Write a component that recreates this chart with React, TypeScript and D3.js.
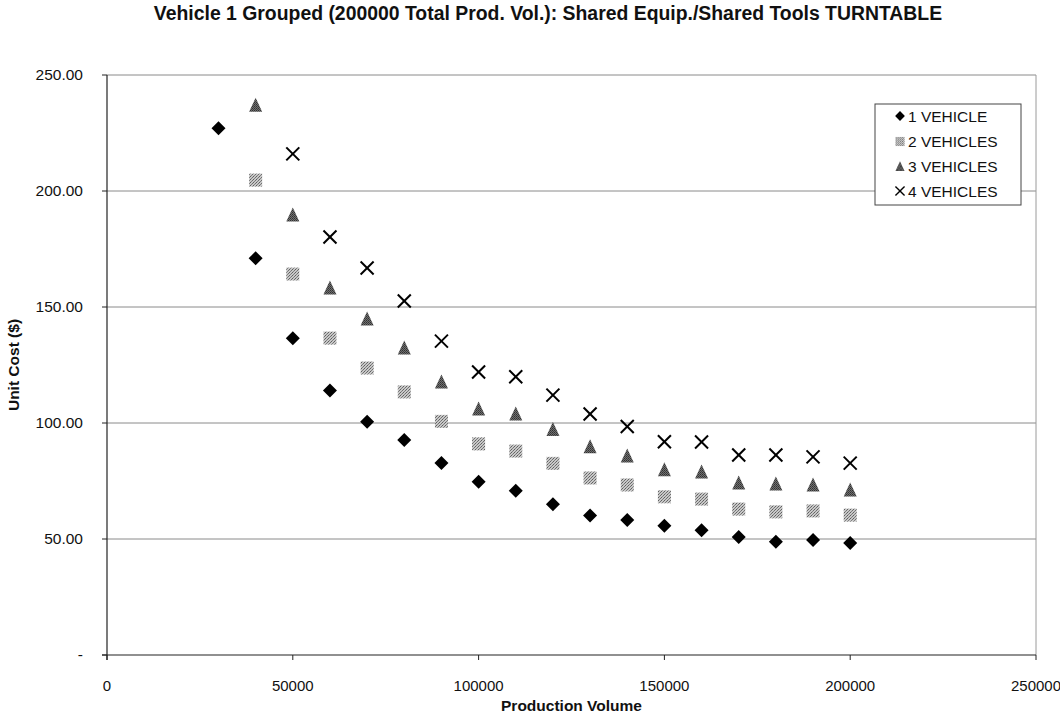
import React from "react";
import * as d3 from "d3";

const title = "Vehicle 1 Grouped (200000 Total Prod. Vol.): Shared Equip./Shared Tools TURNTABLE";
const xTitle = "Production Volume";
const yTitle = "Unit Cost ($)";

const xTicks = [0, 50000, 100000, 150000, 200000, 250000];
const yTicks = [0, 50, 100, 150, 200, 250];

const vol1 = [30000, 40000, 50000, 60000, 70000, 80000, 90000, 100000, 110000, 120000, 130000, 140000, 150000, 160000, 170000, 180000, 190000, 200000];
const vol23 = [40000, 50000, 60000, 70000, 80000, 90000, 100000, 110000, 120000, 130000, 140000, 150000, 160000, 170000, 180000, 190000, 200000];
const vol4 = [50000, 60000, 70000, 80000, 90000, 100000, 110000, 120000, 130000, 140000, 150000, 160000, 170000, 180000, 190000, 200000];

const cost1 = [227, 171, 136.5, 114, 100.5, 92.7, 82.8, 74.7, 70.8, 65, 60.1, 58.2, 55.7, 53.8, 50.9, 48.8, 49.6, 48.3];
const cost2 = [204.7, 164.2, 136.6, 123.7, 113.4, 100.7, 91, 87.9, 82.6, 76.3, 73.3, 68.2, 67.2, 62.9, 61.7, 62.1, 60.3];
const cost3 = [237, 189.7, 158.2, 144.8, 132.3, 117.7, 106, 103.9, 97.2, 89.8, 85.8, 79.8, 78.9, 74.1, 73.7, 73.3, 71.1];
const cost4 = [216, 180.2, 166.8, 152.6, 135.3, 122, 119.9, 112, 103.9, 98.5, 91.9, 91.8, 86.2, 86.2, 85.4, 82.7];

const seriesNames = ["1 VEHICLE", "2 VEHICLES", "3 VEHICLES", "4 VEHICLES"];

const W = 1060;
const H = 717;
const left = 107;
const right = 1036;
const top = 75;
const bottom = 655;
const FONT = "'Liberation Sans', Arial, sans-serif";

function Marker({ kind, x, y }: { kind: number; x: number; y: number }) {
  if (kind === 0) {
    const r = 7;
    return <path d={`M${x},${y - r}L${x + r},${y}L${x},${y + r}L${x - r},${y}Z`} fill="#000" />;
  }
  if (kind === 1) {
    const s = 13;
    return <rect x={x - s / 2} y={y - s / 2} width={s} height={s} fill="url(#patSq)" />;
  }
  if (kind === 2) {
    const w = 13, h = 13;
    return <path d={`M${x},${y - h / 2 - 1}L${x + w / 2},${y + h / 2}L${x - w / 2},${y + h / 2}Z`} fill="url(#patTri)" />;
  }
  const r = 6.5;
  return (
    <g stroke="#000" strokeWidth={2}>
      <line x1={x - r} y1={y - r} x2={x + r} y2={y + r} />
      <line x1={x - r} y1={y + r} x2={x + r} y2={y - r} />
    </g>
  );
}

export default function App() {
  const x = d3.scaleLinear().domain([0, 250000]).range([left, right]);
  const y = d3.scaleLinear().domain([0, 250]).range([bottom, top]);

  const series = [
    { vols: vol1, costs: cost1 },
    { vols: vol23, costs: cost2 },
    { vols: vol23, costs: cost3 },
    { vols: vol4, costs: cost4 },
  ];

  const legX = 875, legY = 104, legW = 146, legH = 101;
  const legRowY = [116, 141.5, 166.5, 191];

  return (
    <svg width={W} height={H} style={{ position: "absolute", left: 0, top: 0, background: "#fff" }} fontFamily={FONT}>
      <defs>
        <pattern id="patSq" width="3" height="3" patternUnits="userSpaceOnUse">
          <rect width="3" height="3" fill="#c8c8c8" />
          <rect x="0" y="0" width="1" height="1" fill="#707070" />
          <rect x="2" y="1" width="1" height="1" fill="#808080" />
          <rect x="1" y="2" width="1" height="1" fill="#606060" />
        </pattern>
        <pattern id="patTri" width="2" height="2" patternUnits="userSpaceOnUse">
          <rect width="2" height="2" fill="#707070" />
          <rect x="0" y="0" width="1" height="1" fill="#303030" />
          <rect x="1" y="1" width="1" height="1" fill="#404040" />
        </pattern>
      </defs>
      <rect width={W} height={H} fill="#fff" />
      <text x={548} y={20} textAnchor="middle" fontWeight="bold" fontSize={19.4} fill="#111">{title}</text>

      {/* gridlines */}
      {yTicks.filter((t) => t > 0).map((t) => (
        <line key={t} x1={left} x2={right} y1={y(t)} y2={y(t)} stroke="#8a8a8a" strokeWidth={1} />
      ))}
      {/* frame */}
      <line x1={right} x2={right} y1={top} y2={bottom} stroke="#9a9a9a" strokeWidth={1} />
      <line x1={left} x2={left} y1={top} y2={bottom + 5} stroke="#222" strokeWidth={1.2} />
      <line x1={left - 5} x2={right} y1={bottom} y2={bottom} stroke="#222" strokeWidth={1.2} />

      {/* y ticks */}
      {yTicks.map((t) => (
        <g key={t}>
          <line x1={left - 5} x2={left} y1={y(t)} y2={y(t)} stroke="#222" />
          <text x={left - 24} y={y(t) + 5} textAnchor="end" fontSize={15.5} fill="#111">
            {t === 0 ? "-" : d3.format(".2f")(t)}
          </text>
        </g>
      ))}
      {/* x ticks */}
      {xTicks.map((t) => (
        <g key={t}>
          <line x1={x(t)} x2={x(t)} y1={bottom} y2={bottom + 5} stroke="#222" />
          <text x={x(t)} y={bottom + 36} textAnchor="middle" fontSize={15} fill="#111">{String(t)}</text>
        </g>
      ))}

      <text x={(left + right) / 2} y={711} textAnchor="middle" fontWeight="bold" fontSize={15.5} fill="#111">{xTitle}</text>
      <text transform={`translate(19,${(top + bottom) / 2}) rotate(-90)`} textAnchor="middle" fontWeight="bold" fontSize={15.5} fill="#111">{yTitle}</text>

      {/* points */}
      {series.map((s, si) => (
        <g key={si}>
          {s.vols.map((v, i) => (
            <Marker key={i} kind={si} x={x(v)} y={y(s.costs[i])} />
          ))}
        </g>
      ))}

      {/* legend */}
      <rect x={legX} y={legY} width={legW} height={legH} fill="#fff" stroke="#444" strokeWidth={1} />
      {seriesNames.map((n, i) => (
        <g key={n}>
          <g transform={`translate(${legX + 25},${legRowY[i]}) scale(0.7) translate(${-(legX + 25)},${-legRowY[i]})`}>
            <Marker kind={i} x={legX + 25} y={legRowY[i]} />
          </g>
          <text x={legX + 33} y={legRowY[i] + 5.5} fontSize={15.5} fill="#111">{n}</text>
        </g>
      ))}
    </svg>
  );
}
